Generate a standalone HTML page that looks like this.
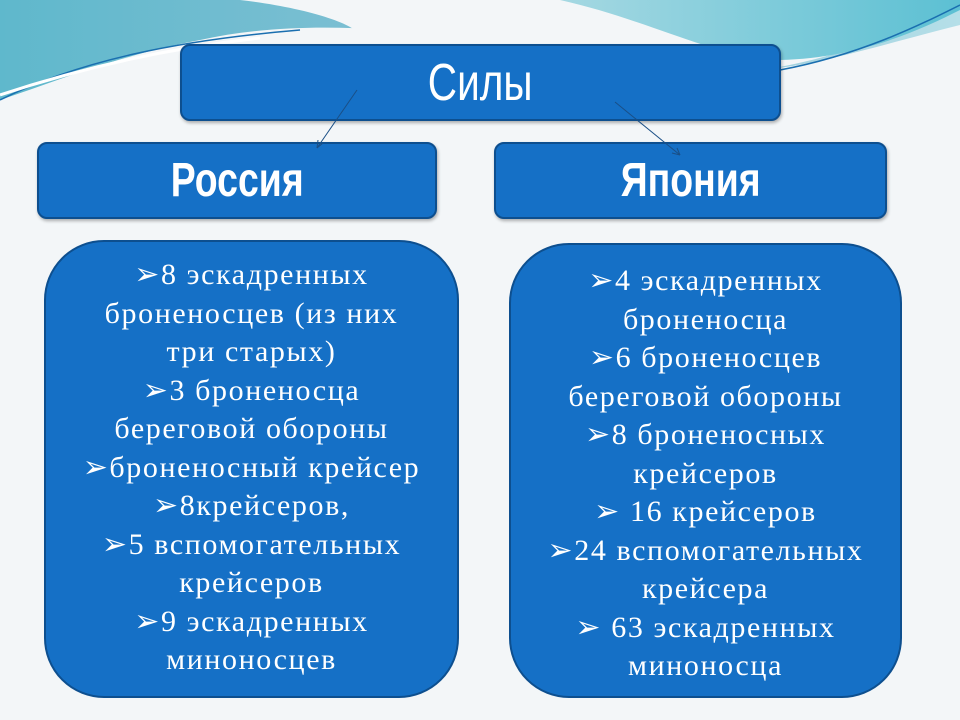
<!DOCTYPE html>
<html><head><meta charset="utf-8"><style>
html,body{margin:0;padding:0}
body{width:960px;height:720px;position:relative;overflow:hidden;background:#f3f6f8;font-family:"Liberation Serif",serif}
.box{position:absolute;background:#1570c6;border:2px solid #0d4f8f;box-sizing:border-box;color:#fff;text-align:center}
.hdr{font-family:"Liberation Sans",sans-serif;display:flex;align-items:center;justify-content:center;border-radius:10px;box-shadow:1px 2px 3px rgba(0,0,0,.3)}
.hdr span{display:inline-block;transform:scaleX(.78)}
.list{border-radius:60px;font-size:30px;line-height:38.5px;letter-spacing:1.6px;padding-top:14px;white-space:nowrap}
</style></head><body>
<svg width="960" height="720" style="position:absolute;left:0;top:0">
<defs>
<linearGradient id="g1" x1="0" y1="0" x2="1" y2="0"><stop offset="0" stop-color="#5fb8cc"/><stop offset="0.6" stop-color="#8cc3d6"/><stop offset="1" stop-color="#b5dfe8"/></linearGradient>
<linearGradient id="g2" x1="0" y1="0" x2="1" y2="0"><stop offset="0" stop-color="#a5d8e2"/><stop offset="1" stop-color="#5cc0d3"/></linearGradient>
</defs>
<path d="M0 0 H960 V25 C880 45 820 65 760 70 C600 70 380 0 200 40 C120 55 60 80 0 100 Z" fill="url(#g1)"/>
<path d="M240 0 C330 10 400 40 330 45 C420 30 560 100 760 70 C850 58 920 20 960 0 Z" fill="#f3f6f8"/>
<path d="M560 0 C650 20 720 60 780 60 C860 58 920 30 960 10 V0 Z" fill="url(#g2)"/>
<path d="M0 100 C80 60 180 40 300 30" stroke="#1a6fb0" stroke-width="1.5" fill="none"/>
<path d="M780 70 C860 55 920 25 960 5" stroke="#1a6fb0" stroke-width="1.5" fill="none"/>
<path d="M0 95 C60 75 150 50 260 38" stroke="#ffffff" stroke-width="3" fill="none"/>
</svg>
<div class="box hdr" style="left:180px;top:44px;width:601px;height:77px;font-size:52px"><span>Силы</span></div>
<div class="box hdr" style="left:37px;top:142px;width:400px;height:77px;font-size:48px;font-weight:bold"><span>Россия</span></div>
<div class="box hdr" style="left:494px;top:142px;width:393px;height:77px;font-size:48px;font-weight:bold"><span>Япония</span></div>
<svg width="960" height="720" style="position:absolute;left:0;top:0">
<line x1="357" y1="90" x2="317" y2="148" stroke="#1a4f86" stroke-width="1"/>
<path d="M317 148 L318 140 M317 148 L323 143" stroke="#1a4f86" stroke-width="1"/>
<line x1="615" y1="102" x2="680" y2="155" stroke="#1a4f86" stroke-width="1"/>
<path d="M680 155 L672 153 M680 155 L677 148" stroke="#1a4f86" stroke-width="1"/>
</svg>
<div class="box list" style="left:44px;top:240px;width:415px;height:458px">
➢8 эскадренных<br>броненосцев (из них<br>три старых)<br>➢3 броненосца<br>береговой обороны<br>➢броненосный крейсер<br>➢8крейсеров,<br>➢5 вспомогательных<br>крейсеров<br>➢9 эскадренных<br>миноносцев</div>
<div class="box list" style="left:509px;top:243px;width:393px;height:455px;padding-top:17px">
➢4 эскадренных<br>броненосца<br>➢6 броненосцев<br>береговой обороны<br>➢8 броненосных<br>крейсеров<br>➢ 16 крейсеров<br>➢24 вспомогательных<br>крейсера<br>➢ 63 эскадренных<br>миноносца</div>
</body></html>
